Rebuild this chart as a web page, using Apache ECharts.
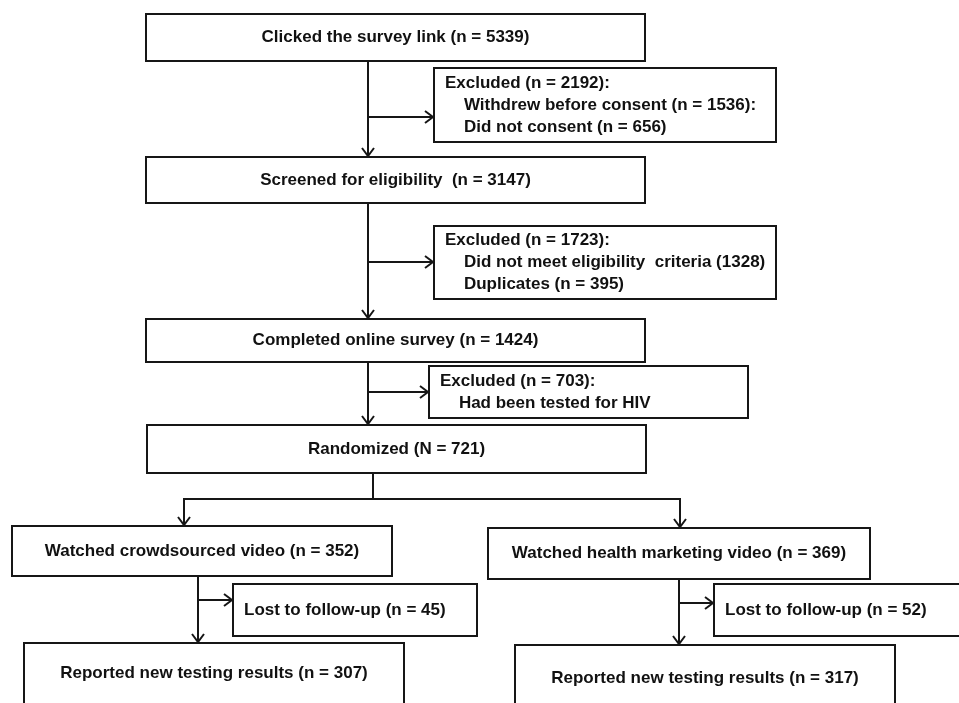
<!DOCTYPE html>
<html>
<head>
<meta charset="utf-8">
<script src="https://cdn.jsdelivr.net/npm/echarts@6/dist/echarts.min.js"></script>
<style>
  html, body { margin: 0; padding: 0; background: #fff; }
  #flow { width: 959px; height: 703px; }
</style>
</head>
<body>
<div id="flow"></div>
<script>
// participant flow numbers
var stageNames = ['Clicked the survey link', 'Screened for eligibility ', 'Completed online survey', 'Randomized',
  'Watched crowdsourced video', 'Watched health marketing video',
  'Reported new testing results', 'Reported new testing results'];
var stageCounts = [5339, 3147, 1424, 721, 352, 369, 307, 317];
var excludedTotals = [2192, 1723, 703];
var reasonLabels = [
  ['Withdrew before consent (n = {n}):', 'Did not consent (n = {n})'],
  ['Did not meet eligibility  criteria ({n})', 'Duplicates (n = {n})'],
  ['Had been tested for HIV']
];
var reasonCounts = [[1536, 656], [1328, 395], [null]];
var lostCounts = [45, 52];

// box layout in page units [x0, y0, x1, y1]
var stageBoxes = [
  [146, 14, 645, 61], [146, 157, 645, 203], [146, 319, 645, 362], [147, 425, 646, 473],
  [12, 526, 392, 576], [488, 528, 870, 579], [24, 643, 404, 704], [515, 645, 895, 711]
];
var excludedBoxes = [[434, 68, 776, 142], [434, 226, 776, 299], [429, 366, 748, 418]];
var lostBoxes = [[233, 584, 477, 636], [714, 584, 980, 636]];

// connectors: points, then whether the end has an arrow
var connectors = [
  [[[368, 61], [368, 157]], true], [[[368, 117], [434, 117]], true],
  [[[368, 203], [368, 226], [368, 319]], true], [[[368, 262], [434, 262]], true],
  [[[368, 362], [368, 425]], true], [[[368, 392], [429, 392]], true],
  [[[373, 473], [373, 499]], false],
  [[[373, 499], [184, 499], [184, 526]], true], [[[373, 499], [680, 499], [680, 528]], true],
  [[[198, 576], [198, 643]], true], [[[198, 600], [233, 600]], true],
  [[[679, 579], [679, 645]], true], [[[679, 603], [714, 603]], true]
];

var FONT = 'bold 17px "Liberation Sans", Arial, sans-serif';
var INK = '#161616';

function fill(tpl, n) { return tpl.replace('{n}', n); }

var boxItems = [];
stageBoxes.forEach(function (b, i) {
  var nLetter = stageNames[i] === 'Randomized' ? 'N' : 'n';
  boxItems.push({ value: b, text: stageNames[i] + ' (' + nLetter + ' = ' + stageCounts[i] + ')', align: 'center' });
});
excludedBoxes.forEach(function (b, i) {
  var lines = ['Excluded (n = ' + excludedTotals[i] + '):'];
  reasonLabels[i].forEach(function (t, k) { lines.push('    ' + fill(t, reasonCounts[i][k])); });
  boxItems.push({ value: b, text: lines.join('\n'), align: 'left' });
});
lostBoxes.forEach(function (b, i) {
  boxItems.push({ value: b, text: 'Lost to follow-up (n = ' + lostCounts[i] + ')', align: 'left' });
});

var myChart = echarts.init(document.getElementById('flow'));

option = {
  animation: false,
  grid: { left: 0, right: 0, top: 0, bottom: 0 },
  xAxis: { type: 'value', min: 0, max: 959, show: false },
  yAxis: { type: 'value', min: 0, max: 703, inverse: true, show: false },
  series: [
    {
      type: 'custom',
      coordinateSystem: 'cartesian2d',
      data: connectors.map(function (c) { return [c[0][0][0], c[0][0][1]]; }),
      renderItem: function (params, api) {
        var c = connectors[params.dataIndex];
        var pts = c[0].map(function (p) { return api.coord(p); });
        var kids = [{ type: 'polyline', shape: { points: pts }, style: { stroke: INK, lineWidth: 2, fill: null } }];
        if (c[1]) {
          var a = pts[pts.length - 2], b = pts[pts.length - 1];
          var dx = b[0] - a[0], dy = b[1] - a[1], len = Math.sqrt(dx * dx + dy * dy);
          var ux = dx / len, uy = dy / len;
          kids.push({
            type: 'polyline',
            shape: { points: [
              [b[0] - ux * 9 - uy * 6, b[1] - uy * 9 + ux * 6],
              [b[0] - ux * 1, b[1] - uy * 1],
              [b[0] - ux * 9 + uy * 6, b[1] - uy * 9 - ux * 6]
            ] },
            style: { stroke: INK, lineWidth: 2, fill: null }
          });
        }
        return { type: 'group', children: kids };
      },
      silent: true
    },
    {
      type: 'custom',
      coordinateSystem: 'cartesian2d',
      data: boxItems,
      renderItem: function (params, api) {
        var item = boxItems[params.dataIndex];
        var p0 = api.coord([api.value(0), api.value(1)]);
        var p1 = api.coord([api.value(2), api.value(3)]);
        var cy = (p0[1] + p1[1]) / 2;
        var tx = item.align === 'center' ? (p0[0] + p1[0]) / 2 : p0[0] + 11;
        return {
          type: 'group',
          children: [
            { type: 'rect', shape: { x: p0[0], y: p0[1], width: p1[0] - p0[0], height: p1[1] - p0[1] },
              style: { fill: '#fff', stroke: INK, lineWidth: 2 } },
            { type: 'text', x: tx, y: cy,
              style: { text: item.text, font: FONT, fill: '#111', align: item.align,
                verticalAlign: 'middle', lineHeight: 22 } }
          ]
        };
      },
      silent: true
    }
  ]
};

myChart.setOption(option);
</script>
</body>
</html>
